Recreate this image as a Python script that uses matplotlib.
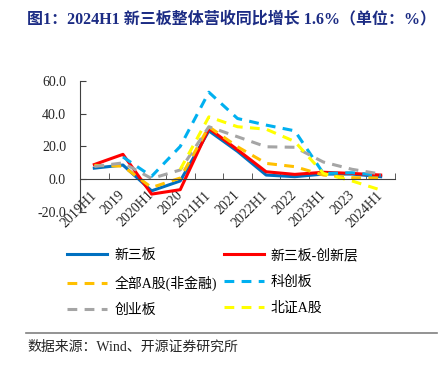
import numpy as np
import matplotlib.pyplot as plt
from matplotlib.lines import Line2D

nan = np.nan

# categories and series (%)
cats = ['2019H1', '2019', '2020H1', '2020', '2021H1', '2021',
        '2022H1', '2022', '2023H1', '2023', '2024H1']
xsb = [6.8, 8.7, -7.0, -1.0, 29.5, 17.0, 2.6, 1.6, 3.2, 3.2, 1.6]      # 新三板
cxc = [9.0, 15.2, -9.0, -6.3, 31.0, 18.0, 4.6, 3.0, 4.3, 3.6, 2.6]     # 新三板-创新层
qba = [8.5, 8.0, -5.0, 0.8, 32.0, 19.8, 9.7, 7.7, 2.6, 1.0, 0.8]       # 全部A股(非金融)
kcb = [nan, 13.6, 1.8, 20.0, 53.0, 37.0, 33.0, 29.5, 3.6, 4.0, 2.4]    # 科创板
cyb = [7.8, 10.0, 0.5, 5.7, 32.0, 25.9, 19.8, 19.5, 10.5, 6.1, 3.2]    # 创业板
bz = [nan, nan, nan, 6.0, 38.0, 32.0, 30.5, 23.0, 3.6, -1.0, -6.5]     # 北证A股

names = ['新三板', '新三板-创新层', '全部A股(非金融)', '科创板', '创业板', '北证A股']
colors = ['#0070C0', '#FF0000', '#FFC000', '#00B0F0', '#A5A5A5', '#FFFF00']
dashed = [False, False, True, True, True, True]

serif_cjk = ['Liberation Serif', 'Noto Sans CJK SC']

fig = plt.figure(figsize=(4.44, 3.67), dpi=100)
ax = fig.add_axes([80/444, 1-212.2/367, 315/444, (212.2-80.7)/367])

x = np.arange(len(cats))
lines = []
for ys, name, c, d in zip([xsb, cxc, qba, kcb, cyb, bz], names, colors, dashed):
    ln, = ax.plot(x, ys, color=c, lw=2.2, label=name)
    if d:
        ln.set_dashes((3.2, 2.4))
    lines.append(ln)

ax.set_xlim(-0.5, len(cats) - 0.5)
ax.set_ylim(-20, 60)
ax.set_yticks([-20, 0, 20, 40, 60])
ax.set_yticklabels(['%.1f' % v for v in [-20, 0, 20, 40, 60]],
                   fontfamily='Liberation Serif', fontsize=10, color='#262626')
ax.spines['top'].set_visible(False)
ax.spines['right'].set_visible(False)
ax.spines['bottom'].set_position(('data', 0))
for s in ['left', 'bottom']:
    ax.spines[s].set_color('#404040')
    ax.spines[s].set_linewidth(0.8)

ax.set_xticks(x)
ax.set_xticklabels(cats, fontfamily='Liberation Serif', fontsize=10, color='#262626')
ax.set_xticks(np.arange(-0.5, len(cats)), minor=True)
ax.tick_params(axis='x', which='major', length=0, pad=10)
ax.tick_params(axis='x', which='minor', direction='in', length=4, color='#404040')
ax.tick_params(axis='y', direction='in', length=4, color='#404040', pad=10)
plt.setp(ax.get_xticklabels(), rotation=45, ha='right', va='center',
         rotation_mode='anchor')

# legend: two columns, filled column-wise
order = [0, 2, 4, 1, 3, 5]
fig.legend([lines[i] for i in order], [names[i] for i in order], ncol=2,
           loc='upper left', bbox_to_anchor=(67/444, 1-248.5/367),
           frameon=False, borderpad=0, borderaxespad=0,
           handlelength=2.9, handletextpad=0.5, columnspacing=0.5,
           labelspacing=0.93, prop={'family': serif_cjk, 'size': 10})

fig.text(27/444, 1-19/367, '图1：2024H1 新三板整体营收同比增长 1.6%（单位：%）',
         family=serif_cjk, fontsize=11.5, fontweight='bold', color='#1C2C84',
         va='center', ha='left')

fig.add_artist(Line2D([26/444, 437/444], [1-333.3/367, 1-333.3/367],
                      color='#808080', lw=1.2))
fig.text(27/444, 1-347.5/367, '数据来源：Wind、开源证券研究所',
         family=serif_cjk, fontsize=10, color='#262626', va='center', ha='left')

fig.savefig('out.png', dpi=100)
